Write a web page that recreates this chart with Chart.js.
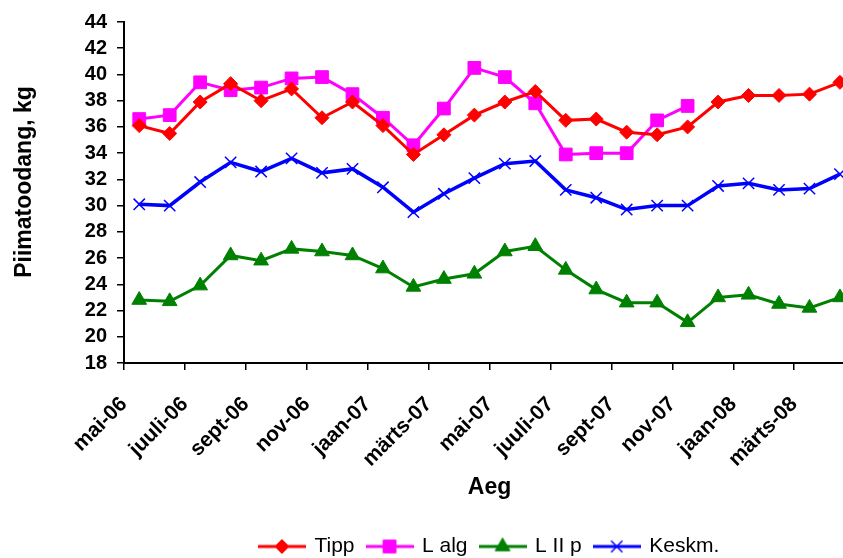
<!DOCTYPE html>
<html>
<head>
<meta charset="utf-8">
<script src="https://cdn.jsdelivr.net/npm/chart.js@4/dist/chart.umd.min.js"></script>
<style>
  html, body { margin: 0; padding: 0; background: #fff; overflow: hidden; width: 843px; height: 558px; }
  #wrap { position: relative; width: 895px; height: 567px; }
</style>
</head>
<body>
<div id="wrap"><canvas id="c" width="895" height="567"></canvas></div>
<script>
// Monthly milk yield per cow, May 2006 - April 2008
const months = ['mai-06', 'juuni-06', 'juuli-06', 'aug-06', 'sept-06', 'okt-06', 'nov-06', 'dets-06',
  'jaan-07', 'veebr-07', 'märts-07', 'apr-07', 'mai-07', 'juuni-07', 'juuli-07', 'aug-07', 'sept-07',
  'okt-07', 'nov-07', 'dets-07', 'jaan-08', 'veebr-08', 'märts-08', 'apr-08'];

// labels for every second month boundary on the time axis
const tickLabels = ['mai-06', 'juuli-06', 'sept-06', 'nov-06', 'jaan-07', 'märts-07',
  'mai-07', 'juuli-07', 'sept-07', 'nov-07', 'jaan-08', 'märts-08'];

const tipp  = [36.1, 35.5, 37.9, 39.3, 38.0, 38.9, 36.7, 37.9, 36.1, 33.9, 35.4, 36.9,
               37.9, 38.7, 36.5, 36.6, 35.6, 35.4, 36.0, 37.9, 38.4, 38.4, 38.5, 39.4];
const lAlg  = [36.6, 36.9, 39.4, 38.8, 39.0, 39.7, 39.8, 38.5, 36.7, 34.6, 37.4, 40.5,
               39.8, 37.8, 33.9, 34.0, 34.0, 36.5, 37.6, null, null, null, null, null];
const lIIp  = [22.8, 22.7, 23.9, 26.2, 25.8, 26.7, 26.5, 26.2, 25.2, 23.8, 24.4, 24.8,
               26.5, 26.9, 25.1, 23.6, 22.6, 22.6, 21.1, 23.0, 23.2, 22.5, 22.2, 23.0];
const keskm = [30.1, 30.0, 31.8, 33.3, 32.6, 33.6, 32.5, 32.8, 31.4, 29.5, 30.9, 32.1,
               33.2, 33.4, 31.2, 30.6, 29.7, 30.0, 30.0, 31.5, 31.7, 31.2, 31.3, 32.4];

const FONT = "'Liberation Sans', Arial, sans-serif";

// each month's value sits in the middle of its month on the time axis
const toPoints = arr => arr.map((v, i) => ({ x: i + 0.5, y: v, month: months[i] }));

const series = [
  { label: 'Tipp',   data: tipp,  color: '#FF0000', style: 'rectRot',  radius: 7,   bw: 1,   lw: 3 },
  { label: 'L alg',  data: lAlg,  color: '#FF00FF', style: 'rect',     radius: 9,   bw: 1,   lw: 3 },
  { label: 'L II p', data: lIIp,  color: '#008000', style: 'triangle', radius: 8.5, bw: 1,   lw: 3 },
  { label: 'Keskm.', data: keskm, color: '#0000FF', style: 'crossRot', radius: 8,   bw: 1.5, lw: 3.5 }
];

// legend symbol: a short line with the series marker in the middle
function legendIcon(s) {
  const c = document.createElement('canvas');
  c.width = 48; c.height = 20;
  const g = c.getContext('2d');
  g.strokeStyle = s.color;
  g.lineWidth = 3;
  g.beginPath(); g.moveTo(0, 10); g.lineTo(48, 10); g.stroke();
  g.fillStyle = s.color;
  g.strokeStyle = s.color;
  g.lineWidth = s.bw;
  Chart.helpers.drawPoint(g, { pointStyle: s.style, radius: s.radius, rotation: 0, borderWidth: s.bw }, 24, 10);
  return c;
}
const icons = series.map(legendIcon);

const yTitle = {
  id: 'yTitle',
  afterDraw(chart) {
    const ctx = chart.ctx;
    ctx.save();
    ctx.translate(25, 182);
    ctx.rotate(-Math.PI / 2);
    ctx.font = 'bold 23px ' + FONT;
    ctx.fillStyle = '#000';
    ctx.textAlign = 'center';
    ctx.textBaseline = 'middle';
    ctx.fillText('Piimatoodang, kg', 0, 0);
    ctx.restore();
  }
};

new Chart(document.getElementById('c'), {
  type: 'line',
  data: {
    datasets: series.map(s => ({
      label: s.label,
      data: toPoints(s.data),
      borderColor: s.color,
      backgroundColor: s.color,
      borderWidth: s.lw,
      pointStyle: s.style,
      pointRadius: s.radius,
      pointHoverRadius: s.radius,
      pointBorderWidth: s.bw,
      pointBackgroundColor: s.color,
      pointBorderColor: s.color,
      tension: 0,
      spanGaps: false,
      clip: false
    }))
  },
  options: {
    responsive: false,
    devicePixelRatio: 1,
    animation: false,
    layout: { padding: { left: 0, top: 21, right: 15, bottom: 0 } },
    plugins: {
      tooltip: { enabled: false },
      legend: {
        position: 'bottom',
        fullSize: false,
        labels: {
          usePointStyle: true,
          pointStyleWidth: 44,
          color: '#000',
          font: { family: FONT, size: 21 },
          padding: 13,
          generateLabels: chart => chart.data.datasets.map((ds, i) => ({
            text: ds.label,
            pointStyle: icons[i],
            datasetIndex: i,
            hidden: false,
            lineWidth: 0,
            fillStyle: ds.borderColor,
            strokeStyle: ds.borderColor,
            fontColor: '#000'
          }))
        }
      }
    },
    scales: {
      x: {
        type: 'linear',
        min: 0,
        max: 24,
        afterFit: s => { s.height = 160; },
        ticks: {
          stepSize: 2,
          autoSkip: false,
          minRotation: 45,
          maxRotation: 45,
          color: '#000',
          padding: 22,
          font: { family: FONT, size: 21, weight: 'bold' },
          callback: v => tickLabels[v / 2] ?? ''
        },
        grid: { drawOnChartArea: false, drawTicks: true, tickLength: 7, color: '#000', lineWidth: 1.5 },
        border: { display: true, color: '#000', width: 2 },
        title: {
          display: true,
          text: 'Aeg',
          color: '#000',
          font: { family: FONT, size: 23, weight: 'bold' },
          padding: { top: 0, bottom: 22 }
        }
      },
      y: {
        min: 18,
        max: 44,
        afterFit: s => { s.width = 124; },
        ticks: {
          stepSize: 2,
          autoSkip: false,
          color: '#000',
          padding: 10,
          font: { family: FONT, size: 20, weight: 'bold' }
        },
        grid: { drawOnChartArea: false, drawTicks: true, tickLength: 7, color: '#000', lineWidth: 1.5 },
        border: { display: true, color: '#000', width: 2 }
      }
    }
  },
  plugins: [yTitle]
});
</script>
</body>
</html>
